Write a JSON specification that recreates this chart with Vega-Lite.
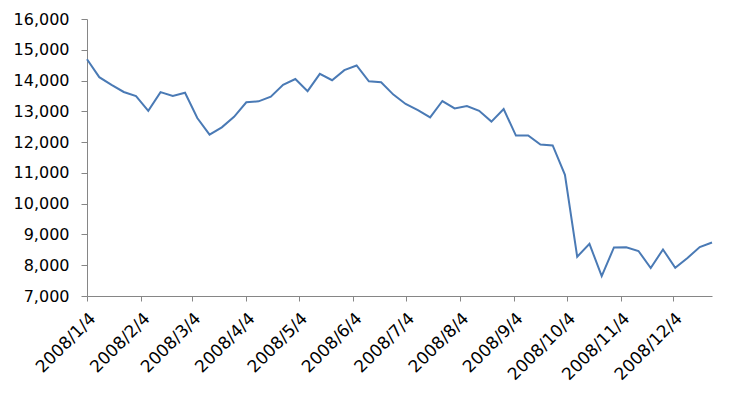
{
  "$schema": "https://vega.github.io/schema/vega-lite/v6.json",
  "width": 625,
  "height": 277,
  "autosize": {"type": "none"},
  "padding": {"left": 87, "top": 19, "right": 36, "bottom": 103},
  "background": "white",
  "config": {
    "view": {"stroke": null},
    "font": "DejaVu Sans"
  },
  "data": {
    "values": [
      {"date": "2008-01-04", "value": 14691},
      {"date": "2008-01-11", "value": 14111},
      {"date": "2008-01-18", "value": 13861},
      {"date": "2008-01-25", "value": 13629},
      {"date": "2008-02-01", "value": 13497},
      {"date": "2008-02-08", "value": 13017},
      {"date": "2008-02-15", "value": 13623},
      {"date": "2008-02-22", "value": 13501},
      {"date": "2008-02-29", "value": 13603},
      {"date": "2008-03-07", "value": 12783},
      {"date": "2008-03-14", "value": 12242},
      {"date": "2008-03-21", "value": 12480},
      {"date": "2008-03-28", "value": 12821},
      {"date": "2008-04-04", "value": 13293},
      {"date": "2008-04-11", "value": 13324},
      {"date": "2008-04-18", "value": 13476},
      {"date": "2008-04-25", "value": 13863},
      {"date": "2008-05-02", "value": 14049},
      {"date": "2008-05-09", "value": 13655},
      {"date": "2008-05-16", "value": 14219},
      {"date": "2008-05-23", "value": 14012},
      {"date": "2008-05-30", "value": 14339},
      {"date": "2008-06-06", "value": 14489},
      {"date": "2008-06-13", "value": 13974},
      {"date": "2008-06-20", "value": 13942},
      {"date": "2008-06-27", "value": 13544},
      {"date": "2008-07-04", "value": 13238},
      {"date": "2008-07-11", "value": 13040},
      {"date": "2008-07-18", "value": 12804},
      {"date": "2008-07-25", "value": 13335},
      {"date": "2008-08-01", "value": 13095},
      {"date": "2008-08-08", "value": 13169},
      {"date": "2008-08-15", "value": 13019},
      {"date": "2008-08-22", "value": 12666},
      {"date": "2008-08-29", "value": 13073},
      {"date": "2008-09-05", "value": 12212},
      {"date": "2008-09-12", "value": 12215},
      {"date": "2008-09-19", "value": 11921},
      {"date": "2008-09-26", "value": 11893},
      {"date": "2008-10-03", "value": 10938},
      {"date": "2008-10-10", "value": 8276},
      {"date": "2008-10-17", "value": 8694},
      {"date": "2008-10-24", "value": 7649},
      {"date": "2008-10-31", "value": 8577},
      {"date": "2008-11-07", "value": 8583},
      {"date": "2008-11-14", "value": 8462},
      {"date": "2008-11-21", "value": 7911},
      {"date": "2008-11-28", "value": 8512},
      {"date": "2008-12-05", "value": 7918},
      {"date": "2008-12-12", "value": 8236},
      {"date": "2008-12-19", "value": 8589},
      {"date": "2008-12-26", "value": 8740}
    ]
  },
  "mark": {"type": "line", "color": "#4a7ab5", "strokeWidth": 2},
  "encoding": {
    "x": {
      "field": "date",
      "type": "temporal",
      "scale": {
        "type": "utc",
        "domain": [{"year": 2008, "month": 1, "date": 4, "utc": true}, {"year": 2008, "month": 12, "date": 26, "utc": true}]
      },
      "axis": {
        "title": null,
        "grid": false,
        "values": [
          {"year": 2008, "month": 1, "date": 4, "utc": true},
          {"year": 2008, "month": 2, "date": 4, "utc": true},
          {"year": 2008, "month": 3, "date": 4, "utc": true},
          {"year": 2008, "month": 4, "date": 4, "utc": true},
          {"year": 2008, "month": 5, "date": 4, "utc": true},
          {"year": 2008, "month": 6, "date": 4, "utc": true},
          {"year": 2008, "month": 7, "date": 4, "utc": true},
          {"year": 2008, "month": 8, "date": 4, "utc": true},
          {"year": 2008, "month": 9, "date": 4, "utc": true},
          {"year": 2008, "month": 10, "date": 4, "utc": true},
          {"year": 2008, "month": 11, "date": 4, "utc": true},
          {"year": 2008, "month": 12, "date": 4, "utc": true}
        ],
        "labelExpr": "utcFormat(datum.value, '%Y/%-m/%-d')",
        "labelAngle": -45,
        "labelFontSize": 17,
        "labelColor": "#000000",
        "labelFont": "DejaVu Sans",
        "labelPadding": 9,
        "domainColor": "#868686",
        "tickColor": "#868686",
        "tickSize": 5,
        "labelFlush": false,
        "labelOverlap": false
      }
    },
    "y": {
      "field": "value",
      "type": "quantitative",
      "scale": {"domain": [7000, 16000], "nice": false, "zero": false},
      "axis": {
        "title": null,
        "grid": false,
        "values": [7000, 8000, 9000, 10000, 11000, 12000, 13000, 14000, 15000, 16000],
        "format": ",d",
        "labelFontSize": 16,
        "labelColor": "#000000",
        "labelFont": "DejaVu Sans",
        "labelPadding": 12,
        "domainColor": "#868686",
        "tickColor": "#868686",
        "tickSize": 6,
        "labelFlush": false,
        "labelOverlap": false
      }
    }
  }
}
